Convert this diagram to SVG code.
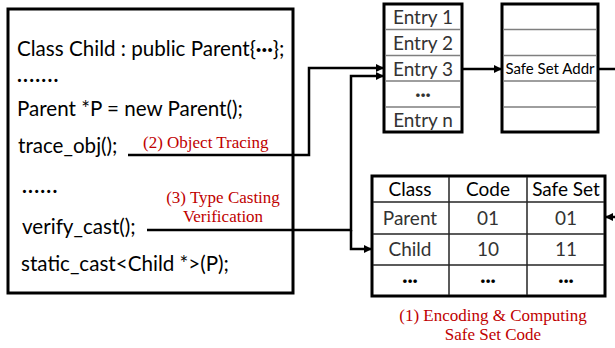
<svg xmlns="http://www.w3.org/2000/svg" width="615" height="348" viewBox="0 0 615 348">
  <defs>
    <marker id="arrow" viewBox="0 0 10 10" refX="10" refY="5" markerWidth="10" markerHeight="8" markerUnits="userSpaceOnUse" orient="auto">
      <path d="M0,0 L10,5 L0,10 z" fill="#000"/>
    </marker>
    <style>
      .frame { fill: #fff; stroke: #000; stroke-width: 3; }
      .cell { stroke: #7f7f7f; stroke-width: 1.5; fill: none; }
      .grid { stroke: #262626; stroke-width: 1.5; fill: none; }
      .code { font-family: Lato, "Liberation Sans", sans-serif; font-size: 20.6px; fill: #000; }
      .cellText { font-family: Lato, "Liberation Sans", sans-serif; font-size: 19px; fill: #333; text-anchor: middle; }
      .head { fill: #000; }
      .small { font-family: Lato, "Liberation Sans", sans-serif; font-size: 15px; fill: #000; text-anchor: middle; }
      .note { font-family: "Liberation Serif", serif; font-size: 17px; fill: #c00000; }
      .wire { fill: none; stroke: #000; stroke-width: 2.5; }
      .dots { font-weight: bold; }
    </style>
  </defs>

  <!-- source code listing -->
  <g id="source">
    <rect class="frame" x="8" y="9" width="285" height="284"/>
    <text class="code" x="17" y="56">Class Child : public Parent{<tspan class="dots">···</tspan>};</text>
    <text class="code dots" x="17" y="82" letter-spacing="1.2">.......</text>
    <text class="code" x="17" y="116">Parent *P = new Parent();</text>
    <text class="code" x="18" y="153">trace_obj();</text>
    <text class="code dots" x="22" y="193" letter-spacing="1.2">......</text>
    <text class="code" x="22" y="234">verify_cast();</text>
    <text class="code" x="21" y="271">static_cast&lt;Child *&gt;(P);</text>
  </g>

  <!-- object entry table -->
  <g id="entries">
    <rect class="frame" x="384" y="4" width="78" height="128"/>
    <path class="cell" d="M385,29.5 H461 M385,55.5 H461 M385,81 H461 M385,107 H461"/>
    <text class="cellText" x="423" y="24">Entry 1</text>
    <text class="cellText" x="423" y="50">Entry 2</text>
    <text class="cellText" x="423" y="76">Entry 3</text>
    <text class="cellText dots" x="423" y="101">···</text>
    <text class="cellText" x="423" y="127">Entry n</text>
  </g>

  <!-- safe set address table -->
  <g id="safeset-addr">
    <rect class="frame" x="502" y="4" width="96" height="128"/>
    <path class="cell" d="M503,29.5 H597 M503,55.5 H597 M503,81 H597 M503,107 H597"/>
    <text class="small" x="550" y="74">Safe Set Addr</text>
  </g>

  <!-- class encoding table -->
  <g id="class-table">
    <rect class="frame" x="372" y="176" width="233" height="120"/>
    <path class="grid" d="M449,177 V295 M527,177 V295 M373,202 H604 M373,234 H604 M373,265 H604"/>
    <text class="cellText head" x="410" y="196">Class</text>
    <text class="cellText head" x="488" y="196">Code</text>
    <text class="cellText head" x="566" y="196">Safe Set</text>
    <text class="cellText" x="410" y="225">Parent</text>
    <text class="cellText" x="488" y="225">01</text>
    <text class="cellText" x="566" y="225">01</text>
    <text class="cellText" x="410" y="256">Child</text>
    <text class="cellText" x="488" y="256">10</text>
    <text class="cellText" x="566" y="256">11</text>
    <text class="cellText head dots" x="410" y="287">···</text>
    <text class="cellText head dots" x="488" y="287">···</text>
    <text class="cellText head dots" x="566" y="287">···</text>
  </g>

  <!-- connectors -->
  <g id="connectors">
    <path class="wire" d="M128,155 H309 V68 H384" marker-end="url(#arrow)"/>
    <path class="wire" d="M147,230 H351 V76 H384" marker-end="url(#arrow)"/>
    <path class="wire" d="M351,230 V249 H372" marker-end="url(#arrow)"/>
    <path class="wire" d="M462,69 H502" marker-end="url(#arrow)"/>
    <path class="wire" d="M598,69 H615"/>
    <path class="wire" d="M615,217 H605" marker-end="url(#arrow)"/>
  </g>

  <!-- step labels -->
  <g id="labels">
    <text class="note" x="143" y="148">(2) Object Tracing</text>
    <text class="note" x="223" y="203" text-anchor="middle">(3) Type Casting</text>
    <text class="note" x="223" y="222" text-anchor="middle">Verification</text>
    <text class="note" x="493" y="321" text-anchor="middle">(1) Encoding &amp; Computing</text>
    <text class="note" x="493" y="340" text-anchor="middle">Safe Set Code</text>
  </g>
</svg>
